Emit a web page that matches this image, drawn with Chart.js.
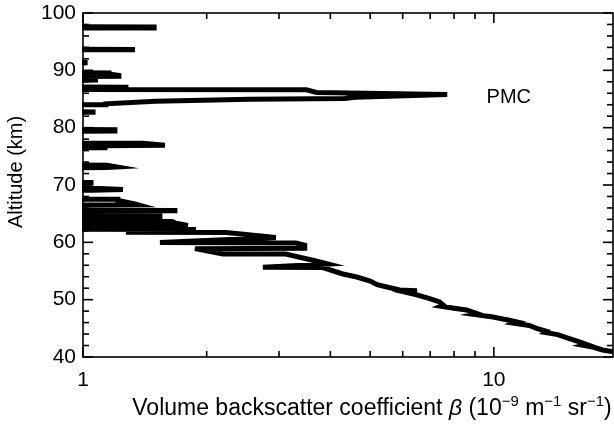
<!DOCTYPE html>
<html>
<head>
<meta charset="utf-8">
<script src="https://cdn.jsdelivr.net/npm/chart.js@4"></script>
<style>
  html, body { margin: 0; padding: 0; background: #fff; }
  #wrap { width: 614px; height: 431px; }
</style>
</head>
<body>
<div id="wrap"><canvas id="chart" width="614" height="431"></canvas></div>
<script>
// Lidar backscatter profile: altitude (km) and volume backscatter coefficient (1e-9 m^-1 sr^-1).
// Samples below 1 fall off the left edge of the log axis.
const altitudeKm = [
  100.0, 97.6, 97.55, 97.4, 97.35,
  93.7, 93.65, 93.6, 93.55,
  91.4, 91.35, 91.3, 91.25,
  89.6, 89.55, 89.35, 89.1, 88.95, 88.9, 88.35, 88.3, 88.25,
  87.1, 87.05, 87.0, 86.9,
  86.65, 86.6, 86.15, 85.8, 85.3, 85.1, 84.95, 84.6, 84.15, 84.0, 83.95,
  82.8, 82.75, 82.7, 82.65,
  79.7, 79.65, 79.4, 79.35,
  77.3, 77.28, 76.95, 76.85, 76.5, 76.45,
  73.5, 73.45, 73.15, 73.05, 73.0,
  70.46, 70.45, 70.4, 70.39,
  69.45, 69.4, 69.2, 69.1, 69.05,
  67.55, 67.5, 67.3, 66.75, 66.55, 66.5,
  65.6, 65.55, 65.5, 65.45,
  64.85, 64.8, 64.25, 64.2,
  63.7, 63.65, 63.35, 62.95, 62.9, 62.3, 62.25, 61.75, 61.7,
  60.84, 59.95, 59.88, 59.5, 58.95, 58.9, 57.98, 57.95, 56.74, 56.22,
  55.65, 55.6, 54.48, 53.95, 53.25, 52.6, 52.21, 51.7, 51.55, 51.3,
  50.9, 50.2, 49.6, 49.0, 48.85, 48.5, 48.2, 47.6, 47.45, 46.98,
  46.4, 46.1, 45.9, 45.5, 45.0, 44.5, 44.3, 43.9, 43.0, 42.62,
  42.2, 42.05, 41.7, 41.22, 40.5
];
const beta = [
  0.8, 0.8, 1.49, 1.49, 0.8,
  0.8, 1.32, 1.32, 0.8,
  0.8, 1.012, 1.012, 0.8,
  0.8, 1.157, 1.157, 1.223, 1.223, 0.8, 0.8, 1.088, 0.8,
  0.8, 1.272, 1.272, 0.8,
  0.8, 3.5, 3.7, 7.7, 4.6, 4.34, 2.55, 1.5, 1.137, 1.137, 0.8,
  0.8, 1.058, 1.058, 0.8,
  0.8, 1.196, 1.196, 0.8,
  0.8, 1.40, 1.583, 1.131, 1.131, 0.8,
  0.8, 1.144, 1.21, 1.144, 0.8,
  0.8, 1.046, 1.046, 0.8,
  0.8, 1.10, 1.251, 1.05, 0.8,
  0.8, 1.216, 1.216, 1.33, 1.361, 0.8,
  0.8, 1.674, 1.674, 0.8,
  0.8, 1.539, 1.539, 0.8,
  0.8, 1.65, 1.683, 1.80, 0.8, 0.8, 1.883, 1.272, 2.229,
  2.947, 1.539, 3.297, 3.465, 3.465, 1.873, 2.19, 3.115, 3.69, 3.945,
  2.74, 3.835, 4.29, 4.64, 5.0, 5.2, 5.49, 5.9, 6.5, 6.1,
  6.45, 6.98, 7.38, 7.55, 7.45, 8.0, 8.58, 9.07, 8.9, 9.95,
  10.9, 11.4, 11.2, 12.2, 12.7, 13.4, 13.3, 14.3, 15.6, 16.16,
  16.8, 16.5, 17.5, 18.4, 21.0
];

// Axis ranges and tick values
const xRange = [1, 19.5];
const yRange = [40, 100];
const xTickValues = [1, 2, 3, 4, 5, 6, 7, 8, 9, 10];
const xLabelled = [1, 10];
const yStep = 2;
const yLabelStep = 10;

// Annotation for the polar mesospheric cloud layer
const pmcLabel = { text: 'PMC', beta: 9.6, altitude: 85.3 };

const FAMILY = "'Liberation Sans', Arial, Helvetica, sans-serif";
Chart.defaults.font.family = FAMILY;
Chart.defaults.color = '#000';

const points = altitudeKm.map((a, i) => ({ x: beta[i], y: a }));

// Frame, inward ticks on all four sides, axis titles and the PMC label
const decorPlugin = {
  id: 'decor',
  afterDraw(chart) {
    const ctx = chart.ctx;
    const ca = chart.chartArea;
    const xs = chart.scales.x;
    const ys = chart.scales.y;
    ctx.save();

    ctx.fillStyle = '#000';
    const w = 1.6;
    xTickValues.forEach(v => {
      const px = xs.getPixelForValue(v);
      const len = xLabelled.indexOf(v) >= 0 ? 10 : 6;
      ctx.fillRect(px - w / 2, ca.bottom - len, w, len);
      ctx.fillRect(px - w / 2, ca.top, w, len);
    });
    for (let v = yRange[0]; v <= yRange[1]; v += yStep) {
      const py = ys.getPixelForValue(v);
      const len = v % yLabelStep === 0 ? 10 : 6;
      ctx.fillRect(ca.left, py - w / 2, len, w);
      ctx.fillRect(ca.right - len, py - w / 2, len, w);
    }

    ctx.strokeStyle = '#000';
    ctx.lineWidth = 1.6;
    ctx.strokeRect(ca.left, ca.top, ca.right - ca.left, ca.bottom - ca.top);

    ctx.fillStyle = '#000';
    ctx.textBaseline = 'alphabetic';
    const base = `23px ${FAMILY}`;
    const sup = `15px ${FAMILY}`;
    const parts = [
      { t: 'Volume backscatter coefficient ', f: base, dy: 0 },
      { t: 'β', f: `italic 23px ${FAMILY}`, dy: 0 },
      { t: ' (10', f: base, dy: 0 },
      { t: '−9', f: sup, dy: -9 },
      { t: ' m', f: base, dy: 0 },
      { t: '−1', f: sup, dy: -9 },
      { t: ' sr', f: base, dy: 0 },
      { t: '−1', f: sup, dy: -9 },
      { t: ')', f: base, dy: 0 }
    ];
    let total = 0;
    parts.forEach(p => { ctx.font = p.f; p.w = ctx.measureText(p.t).width; total += p.w; });
    let cx = (ca.left + ca.right) / 2 + 24 - total / 2;
    const by = ca.bottom + 58;
    ctx.textAlign = 'left';
    parts.forEach(p => { ctx.font = p.f; ctx.fillText(p.t, cx, by + p.dy); cx += p.w; });

    ctx.save();
    ctx.translate(22, (ca.top + ca.bottom) / 2 - 13);
    ctx.rotate(-Math.PI / 2);
    ctx.font = `20px ${FAMILY}`;
    ctx.textAlign = 'center';
    ctx.fillText('Altitude (km)', 0, 0);
    ctx.restore();

    ctx.font = `20px ${FAMILY}`;
    ctx.textAlign = 'left';
    ctx.textBaseline = 'middle';
    ctx.fillText(pmcLabel.text, xs.getPixelForValue(pmcLabel.beta), ys.getPixelForValue(pmcLabel.altitude));
    ctx.restore();
  }
};

new Chart(document.getElementById('chart'), {
  type: 'line',
  data: {
    datasets: [{
      data: points,
      borderColor: '#000',
      backgroundColor: '#000',
      borderWidth: 5,
      pointRadius: 0,
      tension: 0,
      fill: false,
      clip: { left: 1, top: 0, right: 0, bottom: 0 }
    }]
  },
  options: {
    responsive: false,
    animation: false,
    devicePixelRatio: 1,
    layout: { padding: { top: 13, right: 1, left: 0, bottom: 0 } },
    plugins: { legend: { display: false }, tooltip: { enabled: false } },
    scales: {
      x: {
        type: 'logarithmic',
        position: 'bottom',
        min: xRange[0],
        max: xRange[1],
        border: { display: false },
        grid: { display: false, drawTicks: false },
        afterBuildTicks: s => { s.ticks = xTickValues.map(v => ({ value: v })); },
        afterFit: s => { s.height = 74; s.paddingLeft = 0; s.paddingRight = 0; },
        ticks: {
          autoSkip: false,
          maxRotation: 0,
          padding: 11,
          font: { size: 21 },
          color: '#000',
          callback: v => (xLabelled.includes(v) ? String(v) : '')
        }
      },
      y: {
        type: 'linear',
        min: yRange[0],
        max: yRange[1],
        border: { display: false },
        grid: { display: false, drawTicks: false },
        afterFit: s => { s.width = 83; s.paddingTop = 0; s.paddingBottom = 0; },
        ticks: {
          stepSize: yLabelStep,
          autoSkip: false,
          padding: 7,
          font: { size: 21 },
          color: '#000'
        }
      }
    }
  },
  plugins: [decorPlugin]
});
</script>
</body>
</html>
